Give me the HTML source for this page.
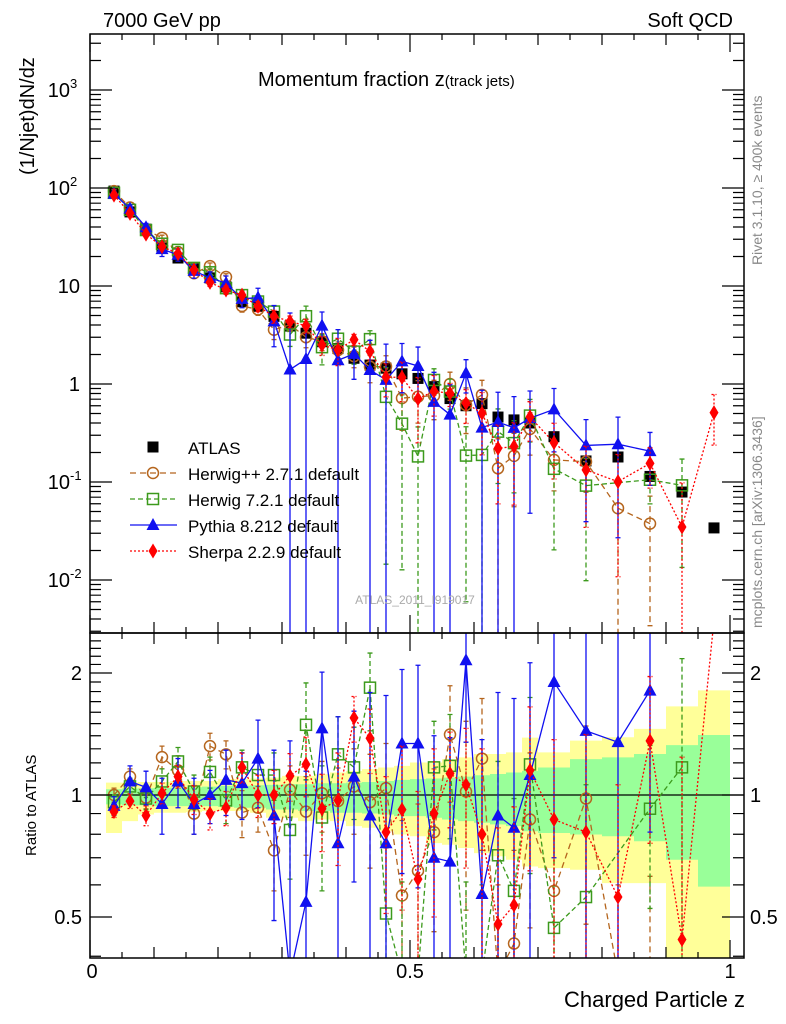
<!DOCTYPE html>
<html><head><meta charset="utf-8"><style>
html,body{margin:0;padding:0;background:#fff;overflow:hidden;}
svg{display:block;font-family:"Liberation Sans",sans-serif;}
</style></head><body>
<svg id="chart" width="786" height="1024" viewBox="0 0 786 1024" xmlns="http://www.w3.org/2000/svg">
<defs>
<clipPath id="clipTop"><rect x="90" y="34" width="654" height="599"/></clipPath>
<clipPath id="clipBot"><rect x="90" y="633" width="654" height="325"/></clipPath>
</defs>
<rect x="0" y="0" width="786" height="1024" fill="#fff"/>
<g id="bands" clip-path="url(#clipBot)"></g>
<g id="topMarks" clip-path="url(#clipTop)"></g>
<g id="botMarks" clip-path="url(#clipBot)"></g>
<g id="axes"></g>
<text x="103" y="27" font-size="20">7000 GeV pp</text>
<text x="733" y="27" font-size="20" text-anchor="end">Soft QCD</text>
<text x="258" y="86" font-size="20">Momentum fraction z<tspan font-size="15">(track jets)</tspan></text>
<text transform="translate(34,175) rotate(-90)" font-size="20">(1/Njet)dN/dz</text>
<text transform="translate(36,856) rotate(-90)" font-size="15">Ratio to ATLAS</text>
<text x="745" y="1007" font-size="22" text-anchor="end">Charged Particle z</text>
<text transform="translate(762,265) rotate(-90)" font-size="14" fill="#888">Rivet 3.1.10, ≥ 400k events</text>
<text transform="translate(762,628) rotate(-90)" font-size="14" fill="#888">mcplots.cern.ch [arXiv:1306.3436]</text>
<text x="415" y="604" font-size="12" fill="#aaa" text-anchor="middle">ATLAS_2011_I919017</text>
<g id="legend"></g>
</svg>
<script>
const edges=[0.025,0.05,0.075,0.1,0.125,0.15,0.175,0.2,0.225,0.25,0.275,0.3,0.325,0.35,0.375,0.4,0.425,0.45,0.475,0.5,0.525,0.55,0.575,0.6,0.625,0.65,0.675,0.7,0.75,0.8,0.85,0.9,0.95,1.0];
const atlas=[93,57,38,25,19.3,15,12.1,9.8,6.9,6.2,4.9,3.9,3.3,2.7,2.3,1.83,1.56,1.45,1.27,1.14,0.94,0.71,0.6,0.63,0.46,0.43,0.40,0.29,0.164,0.18,0.114,0.079,0.034];
const herwigpp=[1.0,1.11,0.985,1.24,1.15,0.90,1.32,1.26,0.905,0.93,0.73,1.03,0.91,1.01,0.966,1.05,0.96,1.04,0.565,0.65,0.81,1.41,1.02,1.23,0.3,0.43,0.87,0.58,0.98,0.3,0.33,null,null];
const herwigppErr=[0.04,0.05,0.06,0.08,0.1,0.1,0.1,0.1,0.12,0.12,0.15,0.15,0.2,0.2,0.2,0.25,0.3,0.3,0.3,0.3,0.35,0.45,0.5,0.5,0.3,0.3,0.4,0.3,0.5,0.3,0.3,0,0];
const herwig7=[0.96,1.05,0.98,1.08,1.21,1.02,1.14,0.97,1.17,1.12,1.12,0.82,1.49,0.88,1.26,1.17,1.84,0.51,0.31,0.16,1.17,1.18,0.31,0.3,0.71,0.58,1.19,0.47,0.56,null,0.925,1.17,null];
const herwig7Err=[0.04,0.05,0.06,0.08,0.1,0.1,0.1,0.12,0.12,0.12,0.15,0.2,0.4,0.3,0.3,0.3,0.4,0.5,0.3,0.16,0.35,0.4,0.3,0.3,0.5,0.4,0.55,0.4,0.5,0,0.4,1.0,0];
const pythia=[0.94,1.08,1.045,0.95,1.08,0.95,1.0,1.09,1.07,1.23,0.89,0.36,0.545,1.46,0.76,1.11,0.89,0.76,1.34,1.34,0.70,0.685,2.15,0.57,0.89,0.83,1.12,1.9,1.44,1.35,1.81,null,null];
const pythiaErr=[0.05,0.1,0.1,0.15,0.15,0.15,0.15,0.2,0.2,0.3,0.4,1,0.6,0.55,0.8,0.5,0.9,1,0.7,0.75,0.7,0.7,0.8,0.8,0.9,0.9,1,1.2,1.2,1.2,1.0,0,0];
const sherpa=[0.91,0.966,0.89,1.01,1.11,0.975,0.90,0.93,1.17,1.0,1.0,1.115,1.19,0.925,0.97,1.55,1.38,0.81,0.92,0.62,0.90,1.13,1.06,0.80,0.48,0.535,1.15,0.87,0.81,0.56,1.36,0.44,15];
const sherpaErr=[0.03,0.04,0.05,0.06,0.07,0.08,0.08,0.09,0.1,0.12,0.15,0.15,0.2,0.2,0.3,0.2,0.25,0.3,0.4,0.4,0.4,0.3,0.4,0.5,0.35,0.4,0.5,0.5,0.6,0.5,0.6,0.8,8];
const bandTotUp=[1.073,1.073,1.077,1.077,1.083,1.083,1.083,1.094,1.094,1.098,1.104,1.115,1.115,1.125,1.136,1.147,1.158,1.169,1.180,1.203,1.203,1.226,1.238,1.262,1.262,1.274,1.385,1.274,1.362,1.388,1.456,1.654,1.812];
const bandTotLo=[0.806,0.862,0.895,0.904,0.904,0.907,0.913,0.913,0.913,0.904,0.879,0.879,0.862,0.870,0.862,0.838,0.830,0.814,0.799,0.791,0.761,0.754,0.740,0.719,0.706,0.692,0.666,0.660,0.654,0.606,0.606,0.3,0.3];
const bandStatUp=[1.033,1.037,1.039,1.041,1.043,1.045,1.049,1.053,1.053,1.057,1.059,1.063,1.063,1.069,1.069,1.073,1.077,1.083,1.090,1.094,1.098,1.104,1.110,1.119,1.127,1.136,1.147,1.169,1.226,1.238,1.262,1.328,1.406];
const bandStatLo=[0.948,0.943,0.943,0.939,0.939,0.939,0.939,0.935,0.930,0.930,0.921,0.921,0.913,0.913,0.904,0.904,0.900,0.895,0.887,0.887,0.879,0.870,0.862,0.854,0.846,0.838,0.814,0.806,0.799,0.791,0.769,0.692,0.594];
const yTopTicks=[0.01,0.1,1,10,100,1000];
const yTopLabels=[["10","-2"],["10","-1"],["1",""],["10",""],["10","2"],["10","3"]];
const ratioTicks=[0.5,1,2];
const ratioLabels=["0.5","1","2"];
const xTicks=[0,0.5,1];
const xLabels=["0","0.5","1"];

const NS="http://www.w3.org/2000/svg";
const X=z=>90+640*z;
const clampY=(y,a,b)=>Math.max(a,Math.min(b,y));
const YT=v=>v>0?clampY(384-98*Math.log10(v),20,650):650;
const YR=r=>r>0?clampY(795-122*Math.log2(r),620,975):975;
function mk(tag,attrs,parent){const e=document.createElementNS(NS,tag);for(const k in attrs)e.setAttribute(k,attrs[k]);parent.appendChild(e);return e;}
const axes=document.getElementById('axes'),topG=document.getElementById('topMarks'),botG=document.getElementById('botMarks'),bandG=document.getElementById('bands'),legG=document.getElementById('legend');
const centers=atlas.map((_,i)=>(edges[i]+edges[i+1])/2);

function drawBand(up,lo,color,name){
  let top='',bot='';
  for(let i=0;i<up.length;i++){top+=`L${X(edges[i])},${YR(up[i])}L${X(edges[i+1])},${YR(up[i])}`;}
  for(let i=lo.length-1;i>=0;i--){bot+=`L${X(edges[i+1])},${YR(lo[i])}L${X(edges[i])},${YR(lo[i])}`;}
  const p=mk('path',{d:'M'+top.slice(1)+bot+'Z',fill:color,stroke:'none'},bandG);
  
  
}
drawBand(bandTotUp,bandTotLo,'#ffff99','total-uncertainty-band');
drawBand(bandStatUp,bandStatLo,'#99ff99','stat-uncertainty-band');
const one=mk('line',{x1:90,x2:744,y1:YR(1),y2:YR(1),stroke:'#000','stroke-width':1.3},bandG);



function marker(type,x,y,color,parent){
  let m;
  if(type==='circle')m=mk('circle',{cx:x,cy:y,r:5.5,fill:'none',stroke:color,'stroke-width':1.5},parent);
  else if(type==='square')m=mk('rect',{x:x-5.5,y:y-5.5,width:11,height:11,fill:'none',stroke:color,'stroke-width':1.5},parent);
  else if(type==='tri')m=mk('polygon',{points:`${x},${y-7} ${x-6.5},${y+5} ${x+6.5},${y+5}`,fill:color},parent);
  else if(type==='diamond')m=mk('polygon',{points:`${x},${y-7.5} ${x+4.5},${y} ${x},${y+7.5} ${x-4.5},${y}`,fill:color},parent);
  else m=mk('rect',{x:x-5.5,y:y-5.5,width:11,height:11,fill:color},parent);
  return m;
}
const series=[
 {name:'herwigpp',r:herwigpp,e:herwigppErr,color:'#b5651d',dash:'6,4',m:'circle'},
 {name:'herwig7',r:herwig7,e:herwig7Err,color:'#3c9a1c',dash:'5,3',m:'square'},
 {name:'pythia',r:pythia,e:pythiaErr,color:'#1010f0',dash:'',m:'tri'},
 {name:'sherpa',r:sherpa,e:sherpaErr,color:'#ff0000',dash:'2,2',m:'diamond'}
];
atlas.forEach((v,i)=>{
  const m=marker('atlas',X(centers[i]),YT(v),'#000',topG);
  
  
});
series.forEach(s=>{
  for(const panel of ['top','bot']){
    const g=panel==='top'?topG:botG;
    const val=i=>panel==='top'?atlas[i]*s.r[i]:s.r[i];
    const Y=panel==='top'?YT:YR;
    let d='';
    s.r.forEach((r,i)=>{if(r===null)return;d+=(d?'L':'M')+X(centers[i])+','+Y(val(i));});
    const ln=mk('path',{d:d,fill:'none',stroke:s.color,'stroke-width':1.3,'stroke-dasharray':s.dash},g);
    
    
    s.r.forEach((r,i)=>{
      if(r===null)return;
      const x=X(centers[i]);const v=val(i);
      const err=panel==='top'?atlas[i]*s.e[i]:s.e[i];
      if(err>0){
        const hi=Y(v+err);const lo=Y(v-err);
        const eb=mk('path',{d:`M${x},${hi}L${x},${lo}M${x-2.5},${hi}L${x+2.5},${hi}M${x-2.5},${lo}L${x+2.5},${lo}`,stroke:s.color,'stroke-width':1.3,'stroke-dasharray':s.dash,fill:'none'},g);
        
        
      }
      const m=marker(s.m,x,Y(v),s.color,g);
      
      
    });
  }
});

for(const f of [[90,34,654,599,'top-panel-frame'],[90,633,654,325,'ratio-panel-frame']]){
  const r=mk('rect',{x:f[0],y:f[1],width:f[2],height:f[3],fill:'none',stroke:'#000','stroke-width':1.5},axes);
  
  
}
let xt='';
for(let k=0;k<=20;k++){const z=k*0.05;const x=X(z);const L=(k%10===0)?18:(k%2===0?11:6);
  for(const [yb,dir] of [[34,1],[633,-1],[633,1],[958,-1]]){xt+=`M${x},${yb}L${x},${yb+dir*L}`;}}
const xtp=mk('path',{d:xt,stroke:'#000','stroke-width':1.2,fill:'none'},axes);


xTicks.forEach((z,i)=>{
  const t=mk('text',{x:X(z)+(i===0?2:0),y:978,'font-size':20,'text-anchor':'middle'},axes);
  t.textContent=xLabels[i];
  
  
});
let yt='';
for(let d=-3;d<=3;d++)for(let m=1;m<=9;m++){const v=m*Math.pow(10,d);const y=384-98*Math.log10(v);if(y<35||y>632)continue;const L=m===1?22:11;yt+=`M90,${y}L${90+L},${y}M744,${y}L${744-L},${y}`;}
const ytp=mk('path',{d:yt,stroke:'#000','stroke-width':1.2,fill:'none'},axes);


yTopTicks.forEach((v,i)=>{
  const lab=yTopLabels[i];const y=YT(v)+7;
  const t=mk('text',{x:lab[1]?70:80,y:y,'font-size':20,'text-anchor':'end'},axes);
  t.textContent=lab[0];
  
  
  if(lab[1]){const s=mk('text',{x:70,y:y-9,'font-size':13},axes);s.textContent=lab[1];
    
    }
});
let rt='';
for(let k=4;k<=25;k++){const r=k/10;const y=795-122*Math.log2(r);if(y<634||y>957)continue;const L=(k===5||k===10||k===20)?22:11;rt+=`M90,${y}L${90+L},${y}M744,${y}L${744-L},${y}`;}
const rtp=mk('path',{d:rt,stroke:'#000','stroke-width':1.2,fill:'none'},axes);


ratioTicks.forEach((r,i)=>{
  for(const side of ['left','right']){
    const t=mk('text',{x:side==='left'?82:750,y:YR(r)+7,'font-size':20,'text-anchor':side==='left'?'end':'start'},axes);
    t.textContent=ratioLabels[i];
    
    
  }
});
const legItems=[['ATLAS','#000','','atlas'],['Herwig++ 2.7.1 default','#b5651d','6,4','circle'],['Herwig 7.2.1 default','#3c9a1c','5,3','square'],['Pythia 8.212 default','#1010f0','','tri'],['Sherpa 2.2.9 default','#ff0000','2,2','diamond']];
legItems.forEach((it,i)=>{
  const y=447+i*26;
  const g=mk('g',{},legG);
  
  
  if(i>0){mk('line',{x1:130,x2:177,y1:y,y2:y,stroke:it[1],'stroke-width':1.3,'stroke-dasharray':it[2]},g);}
  marker(it[3],153,y,it[1],g);
  const t=mk('text',{x:188,y:y+7,'font-size':17},g);
  t.textContent=it[0];
});
</script>
</body></html>
